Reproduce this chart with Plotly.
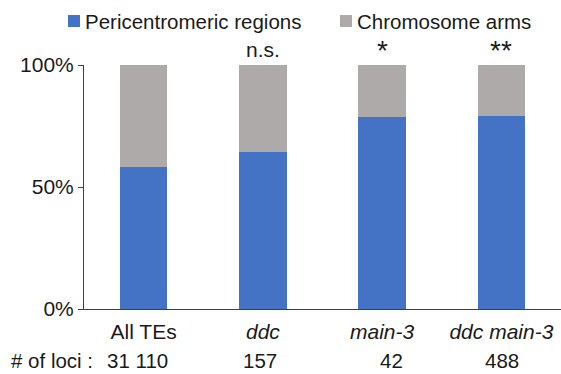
import plotly.graph_objects as go

categories = ["All TEs", "ddc", "main-3", "ddc main-3"]
tick_labels = ["All TEs", "<i>ddc</i>", "<i>main-3</i>", "<i>ddc main-3</i>"]
pericentromeric = [58.1, 64.5, 78.6, 79.0]
chromosome_arms = [100 - v for v in pericentromeric]
significance = ["", "n.s.", "*", "**"]
loci_counts = ["31 110", "157", "42", "488"]
series_names = ["Pericentromeric regions", "Chromosome arms"]
colors = ["#4472C4", "#AEAAAA"]

# small horizontal nudges of the count labels, as in the original layout
count_xshift = [-6, -3, 9, 1]

FONT = "Liberation Sans, Arial, sans-serif"
TXT = "#1a1a1a"

fig = go.Figure()
fig.add_trace(go.Bar(x=categories, y=pericentromeric, name=series_names[0],
                     marker=dict(color=colors[0], line=dict(width=0)), showlegend=False))
fig.add_trace(go.Bar(x=categories, y=chromosome_arms, name=series_names[1],
                     marker=dict(color=colors[1], line=dict(width=0)), showlegend=False))

annotations = []
# significance marks above bars
for c, s in zip(categories, significance):
    if not s:
        continue
    if s.startswith("*"):
        annotations.append(dict(x=c, y=100, xref="x", yref="y", text=s, showarrow=False,
                                yanchor="bottom", yshift=-3,
                                font=dict(size=28, color=TXT, family=FONT)))
    else:
        annotations.append(dict(x=c, y=100, xref="x", yref="y", text=s, showarrow=False,
                                yanchor="bottom", yshift=2,
                                font=dict(size=21, color=TXT, family=FONT)))
# counts row
CNT_SIZE = 20.5
annotations.append(dict(x=0, y=0, xref="paper", yref="paper", text="# of loci :", showarrow=False,
                        xanchor="left", yanchor="bottom", xshift=-75, yshift=-65,
                        font=dict(size=CNT_SIZE, color=TXT, family=FONT)))
for c, n, dx in zip(categories, loci_counts, count_xshift):
    annotations.append(dict(x=c, y=0, xref="x", yref="paper", text=n, showarrow=False,
                            xanchor="center", yanchor="bottom", yshift=-65, xshift=dx,
                            font=dict(size=CNT_SIZE, color=TXT, family=FONT)))

# manual legend
legend_pos = [(-16, series_names[0], colors[0]), (256, series_names[1], colors[1])]
shapes = []
for xoff, name, col in legend_pos:
    shapes.append(dict(type="rect", xref="paper", yref="paper", xsizemode="pixel", ysizemode="pixel",
                       xanchor=0, yanchor=1, x0=xoff, x1=xoff + 12, y0=38, y1=50,
                       fillcolor=col, line=dict(width=0)))
    annotations.append(dict(x=0, y=1, xref="paper", yref="paper", text=name, showarrow=False,
                            xanchor="left", yanchor="middle", xshift=xoff + 15, yshift=44,
                            font=dict(size=20.5, color=TXT, family=FONT)))

fig.update_layout(
    barmode="stack",
    bargap=0.6,
    width=561, height=374,
    margin=dict(l=84, r=0, t=65, b=65),
    paper_bgcolor="white", plot_bgcolor="white",
    font=dict(family=FONT, size=21, color=TXT),
    annotations=annotations,
    shapes=shapes,
    showlegend=False,
)
fig.update_xaxes(tickvals=categories, ticktext=tick_labels, range=[-0.5, 3.5],
                 showline=True, linecolor="#404040", linewidth=1, ticks="",
                 showgrid=False, ticklabelstandoff=4,
                 tickfont=dict(size=21, color=TXT, family=FONT))
fig.update_yaxes(range=[0, 100], tickvals=[0, 50, 100], ticktext=["0%", "50%", "100%"],
                 showline=True, linecolor="#404040", linewidth=1, ticks="outside", ticklen=5,
                 tickcolor="#404040", showgrid=False, zeroline=False,
                 tickfont=dict(size=21, color=TXT, family=FONT))

fig.write_html("out.html")
